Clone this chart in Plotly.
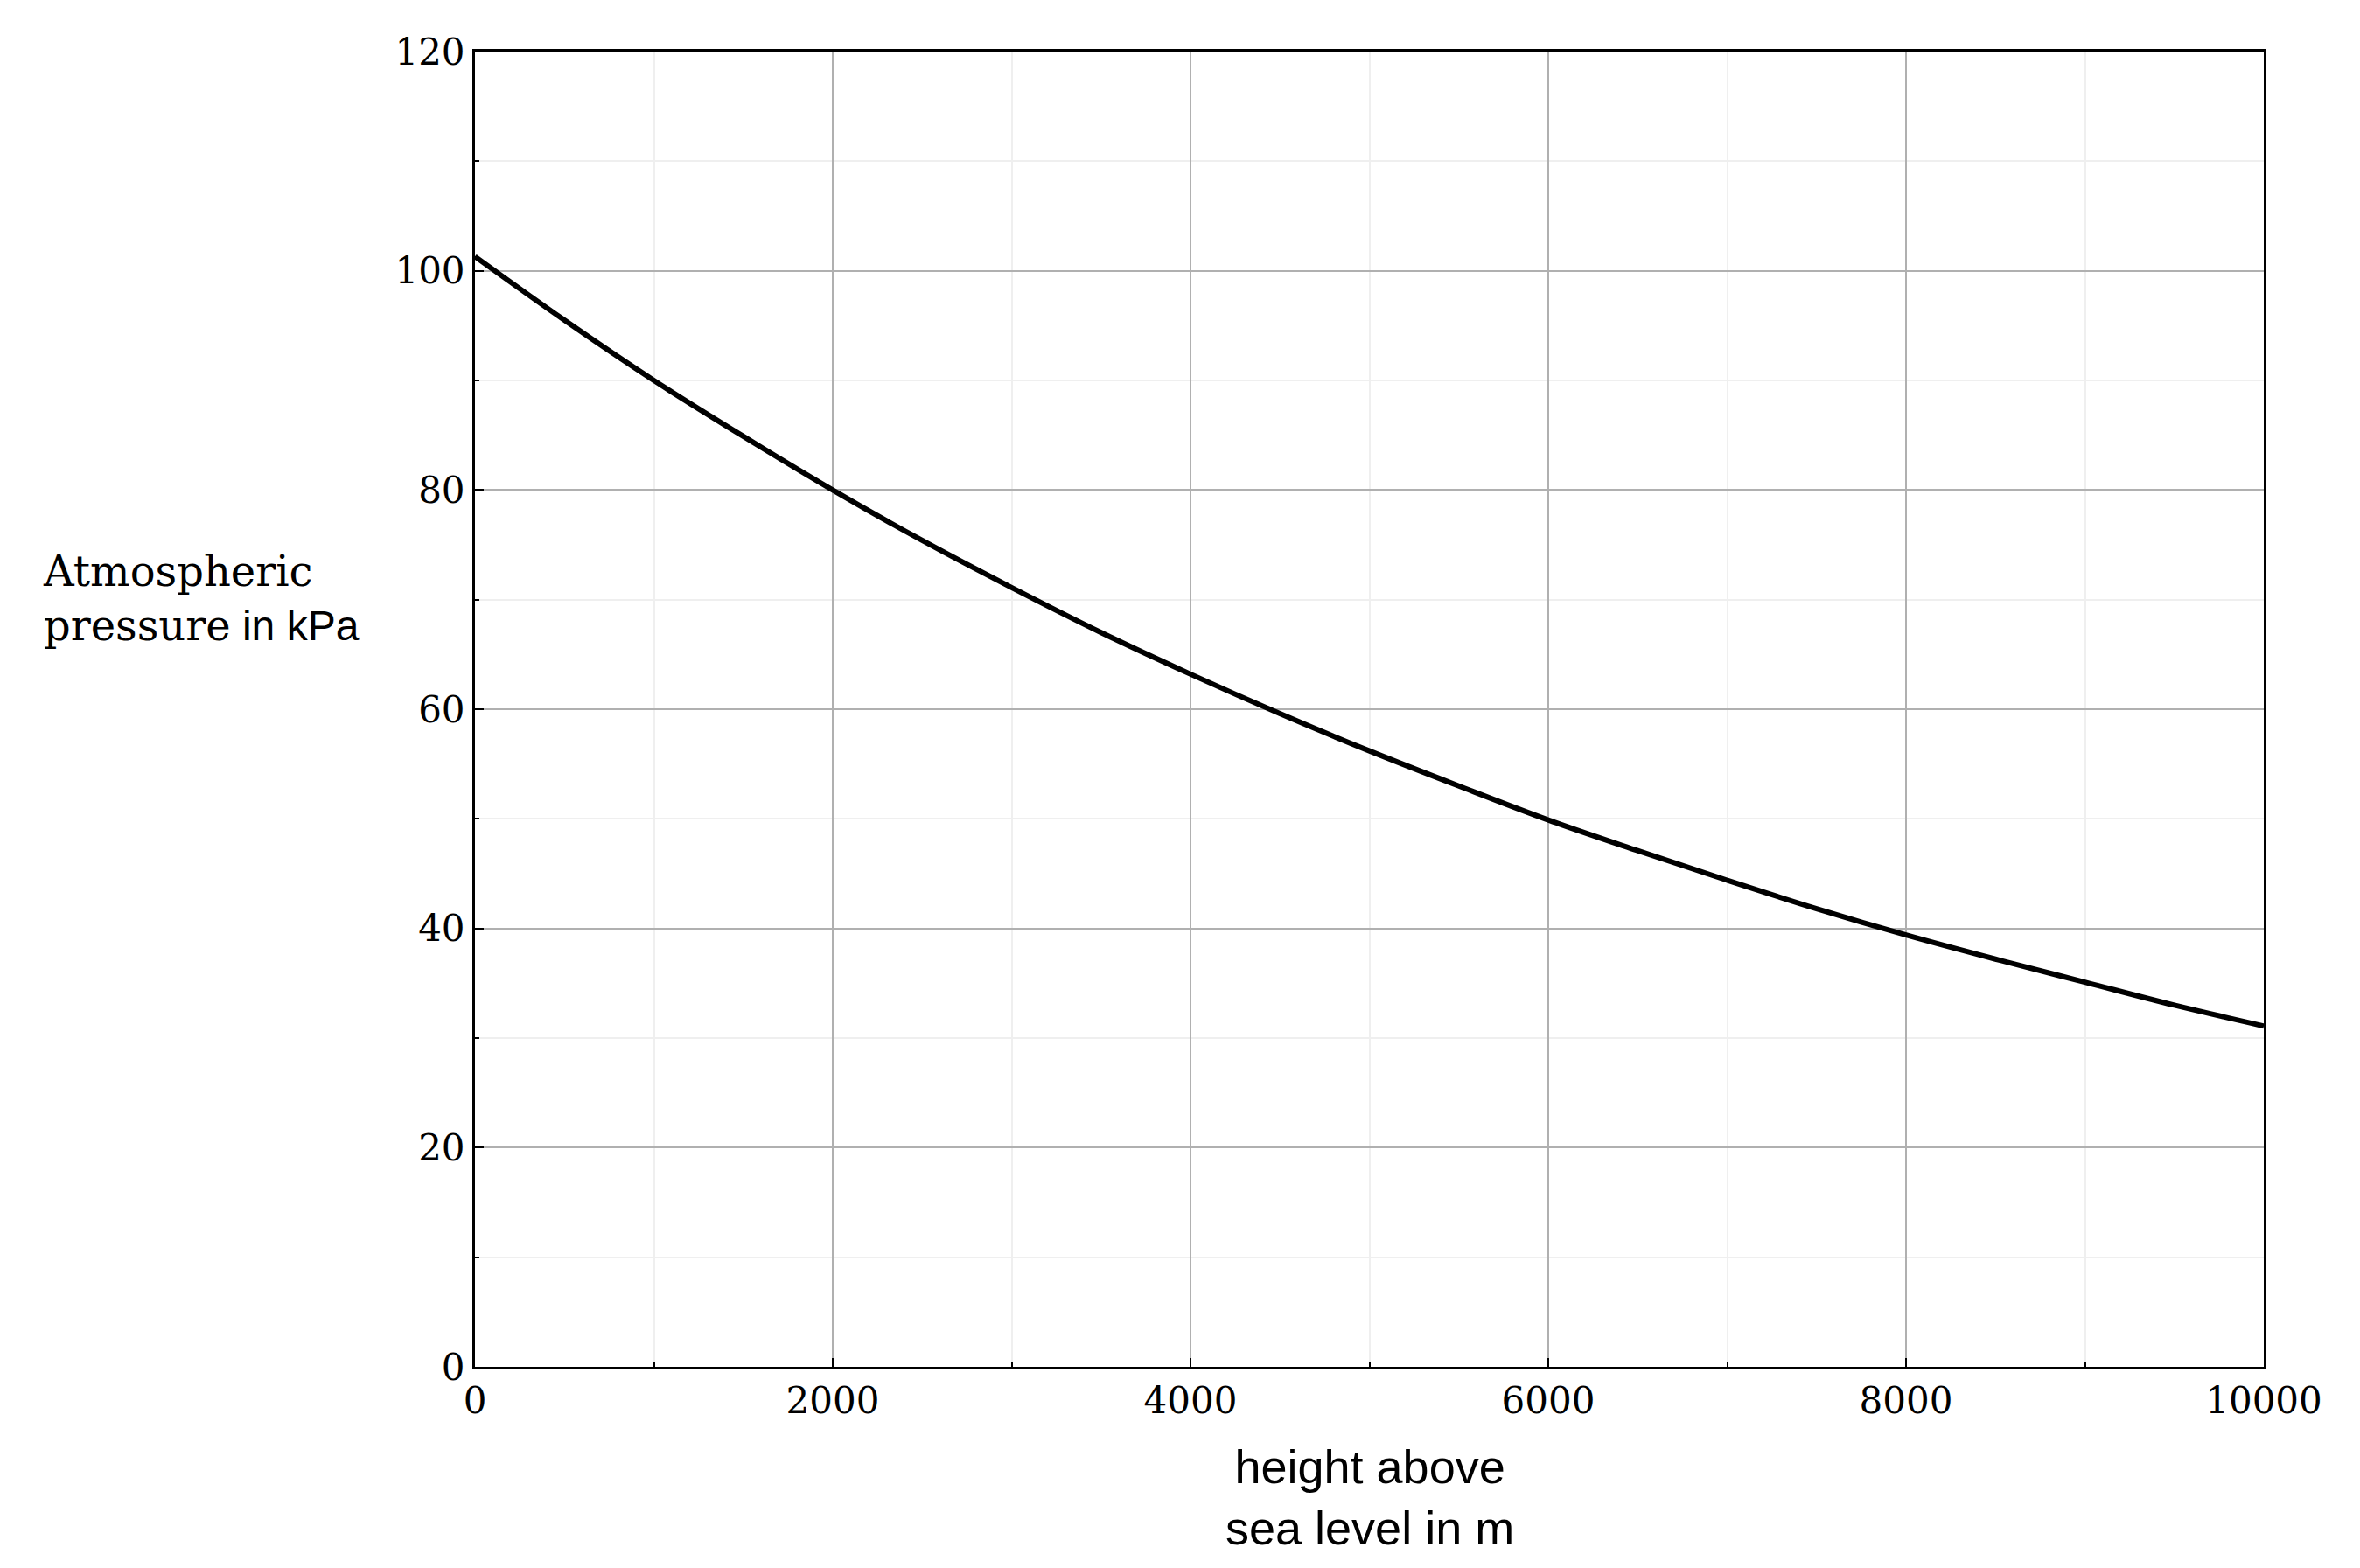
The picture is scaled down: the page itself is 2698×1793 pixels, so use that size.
import plotly.graph_objects as go

height_m = [0, 500, 1000, 1500, 2000, 2500, 3000, 3500, 4000, 4500, 5000,
            5500, 6000, 6500, 7000, 7500, 8000, 8500, 9000, 9500, 10000]
pressure_kpa = [101.3, 95.5, 90.0, 84.9, 80.0, 75.4, 71.1, 67.0, 63.2, 59.6, 56.2,
                53.0, 49.9, 47.1, 44.4, 41.8, 39.4, 37.2, 35.1, 33.0, 31.1]
x_ticks = [0, 2000, 4000, 6000, 8000, 10000]
x_tick_labels = ["0", "2000", "4000", "6000", "8000", "10000"]
y_ticks = [0, 20, 40, 60, 80, 100, 120]

fig = go.Figure(go.Scatter(x=height_m, y=pressure_kpa, mode="lines",
                           line=dict(color="black", width=6, shape="spline")))

axis_common = dict(showline=True, linecolor="black", linewidth=3, mirror=True,
                   ticks="inside", ticklen=10, tickwidth=2, tickcolor="black",
                   showgrid=True, gridcolor="#b0b0b0", gridwidth=1.5, zeroline=False,
                   tickfont=dict(family="DejaVu Serif", size=42, color="black"))
fig.update_xaxes(range=[0, 10000], tickvals=x_ticks, ticktext=x_tick_labels, **axis_common,
                 minor=dict(dtick=1000, ticks="inside", ticklen=5, tickcolor="black",
                            showgrid=True, gridcolor="#efefef"))
fig.update_yaxes(range=[0, 120], tickvals=y_ticks, **axis_common,
                 minor=dict(dtick=10, ticks="inside", ticklen=5, tickcolor="black",
                            showgrid=True, gridcolor="#efefef"))

L, R, T, B = 535, 118, 51, 238
pw = 2698 - L - R
ph = 1793 - T - B
fig.update_layout(
    width=2698, height=1793, paper_bgcolor="white", plot_bgcolor="white",
    margin=dict(l=L, r=R, t=T, b=B), showlegend=False,
    annotations=[
        dict(x=(39 - L) / pw, y=(1793 - B - 676) / ph, xref="paper", yref="paper",
             showarrow=False, xanchor="left", yanchor="middle", align="left",
             text="<span style='font-family:DejaVu Serif'>Atmospheric</span><br>"
                  "<span style='font-family:DejaVu Serif'>pressure</span> in kPa",
             font=dict(family="Liberation Sans", size=48, color="black")),
        dict(x=0.5, y=0, xref="paper", yref="paper", yshift=-82, showarrow=False,
             xanchor="center", yanchor="top", align="center",
             text="height above<br>sea level in m",
             font=dict(family="Liberation Sans", size=54, color="black")),
    ],
)
fig.write_html("out.html")
